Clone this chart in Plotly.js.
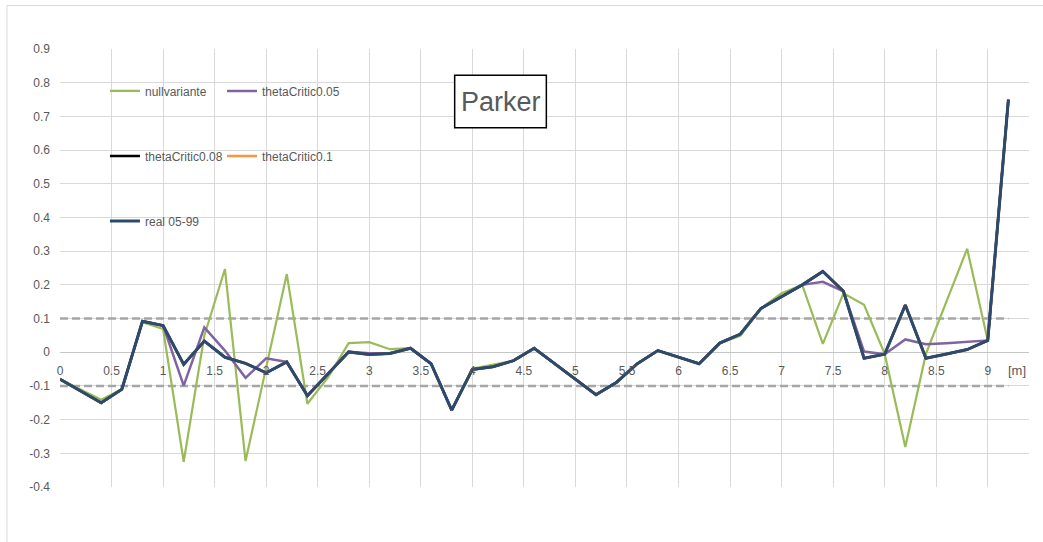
<!DOCTYPE html>
<html>
<head>
<meta charset="utf-8">
<script src="https://cdn.plot.ly/plotly-3.0.1.min.js"></script>
<style>html,body{margin:0;padding:0;background:#fff;}#chart{width:1043px;height:542px;}</style>
</head>
<body>
<div id="chart"></div>
<script>
// positions along the profile [m]
const positions = [0, 0.2, 0.4, 0.6, 0.8, 1.0, 1.2, 1.4, 1.6, 1.8, 2.0, 2.2, 2.4, 2.6, 2.8, 3.0, 3.2, 3.4, 3.6, 3.8, 4.0, 4.2, 4.4, 4.6, 4.8, 5.0, 5.2, 5.4, 5.6, 5.8, 6.0, 6.2, 6.4, 6.6, 6.8, 7.0, 7.2, 7.4, 7.6, 7.8, 8.0, 8.2, 8.4, 8.6, 8.8, 9.0, 9.2];

const nullvariante = [-0.08, -0.11, -0.141, -0.11, 0.089, 0.069, -0.325, 0.049, 0.247, -0.323, -0.045, 0.232, -0.153, -0.075, 0.027, 0.03, 0.009, 0.012, -0.034, -0.172, -0.049, -0.036, -0.025, 0.012, -0.034, -0.08, -0.126, -0.089, -0.034, 0.005, -0.015, -0.034, 0.027, 0.049, 0.13, 0.175, 0.2, 0.025, 0.175, 0.141, -0.005, -0.281, -0.005, 0.15, 0.307, 0.035, 0.75];

const thetaCritic005 = [-0.08, -0.115, -0.15, -0.11, 0.092, 0.079, -0.099, 0.074, 0.005, -0.076, -0.018, -0.029, -0.129, -0.064, 0.001, -0.003, -0.002, 0.012, -0.034, -0.172, -0.051, -0.043, -0.025, 0.012, -0.034, -0.08, -0.126, -0.089, -0.034, 0.005, -0.015, -0.034, 0.027, 0.054, 0.13, 0.166, 0.2, 0.209, 0.181, 0.002, -0.006, 0.038, 0.024, 0.027, 0.03, 0.035, 0.75];

const thetaCritic008 = [-0.08, -0.115, -0.15, -0.11, 0.092, 0.079, -0.036, 0.033, -0.015, -0.033, -0.061, -0.029, -0.129, -0.064, 0.001, -0.007, -0.004, 0.012, -0.034, -0.172, -0.051, -0.043, -0.025, 0.012, -0.034, -0.08, -0.126, -0.089, -0.034, 0.005, -0.015, -0.034, 0.027, 0.054, 0.13, 0.166, 0.2, 0.24, 0.181, -0.018, -0.006, 0.14, -0.018, -0.005, 0.008, 0.035, 0.75];

const thetaCritic01 = [-0.08, -0.115, -0.15, -0.11, 0.092, 0.079, -0.036, 0.033, -0.015, -0.033, -0.061, -0.029, -0.129, -0.064, 0.001, -0.007, -0.004, 0.012, -0.034, -0.172, -0.051, -0.043, -0.025, 0.012, -0.034, -0.08, -0.126, -0.089, -0.034, 0.005, -0.015, -0.034, 0.027, 0.054, 0.13, 0.166, 0.2, 0.24, 0.181, -0.018, -0.006, 0.14, -0.018, -0.005, 0.008, 0.035, 0.75];

const real0599 = [-0.08, -0.115, -0.15, -0.11, 0.092, 0.079, -0.036, 0.033, -0.015, -0.033, -0.061, -0.029, -0.129, -0.064, 0.001, -0.007, -0.004, 0.012, -0.034, -0.172, -0.051, -0.043, -0.025, 0.012, -0.034, -0.08, -0.126, -0.089, -0.034, 0.005, -0.015, -0.034, 0.027, 0.054, 0.13, 0.166, 0.2, 0.24, 0.181, -0.018, -0.006, 0.14, -0.018, -0.005, 0.008, 0.035, 0.75];

// threshold lines
const limitX = [0, 9.2];
const limitUpper = [0.1, 0.1];
const limitLower = [-0.1, -0.1];

const yTickVals = [-0.4, -0.3, -0.2, -0.1, 0, 0.1, 0.2, 0.3, 0.4, 0.5, 0.6, 0.7, 0.8, 0.9];
const yTickText = ["-0.4", "-0.3", "-0.2", "-0.1", "0", "0.1", "0.2", "0.3", "0.4", "0.5", "0.6", "0.7", "0.8", "0.9"];

const FONT = "Liberation Sans, Arial, sans-serif";
const TXT = "#595959";

const traces = [
  {x: limitX, y: limitUpper, mode: "lines", line: {color: "#a6a6a6", width: 2.5, dash: "8px,4px"}, showlegend: false, hoverinfo: "skip"},
  {x: limitX, y: limitLower, mode: "lines", line: {color: "#a6a6a6", width: 2.5, dash: "8px,4px"}, showlegend: false, hoverinfo: "skip"},
  {x: positions, y: nullvariante, name: "nullvariante", mode: "lines", line: {color: "#9bbb59", width: 2.2}, legend: "legend"},
  {x: positions, y: thetaCritic005, name: "thetaCritic0.05", mode: "lines", line: {color: "#8064a2", width: 2.5}, legend: "legend2"},
  {x: positions, y: thetaCritic008, name: "thetaCritic0.08", mode: "lines", line: {color: "#000000", width: 2.5}, legend: "legend3"},
  {x: positions, y: thetaCritic01, name: "thetaCritic0.1", mode: "lines", line: {color: "#f79646", width: 2.5}, legend: "legend4"},
  {x: positions, y: real0599, name: "real 05-99", mode: "lines", line: {color: "#2c4a6e", width: 3}, legend: "legend5"}
];

function leg(x, y) {
  return {x: x, y: y, xanchor: "left", yanchor: "middle", bgcolor: "rgba(0,0,0,0)", borderwidth: 0,
          font: {family: FONT, size: 12, color: TXT}, itemwidth: 30, orientation: "v", tracegroupgap: 0};
}

const layout = {
  width: 1043, height: 542,
  margin: {l: 60, r: 14, t: 49, b: 55, pad: 0},
  paper_bgcolor: "#ffffff", plot_bgcolor: "#ffffff",
  font: {family: FONT, size: 12, color: TXT},
  showlegend: true,
  legend: leg(0.0464, 0.9043),
  legend2: leg(0.1672, 0.9043),
  legend3: leg(0.0464, 0.7556),
  legend4: leg(0.1672, 0.7556),
  legend5: leg(0.0464, 0.6075),
  xaxis: {
    range: [0, 9.4], tick0: 0, dtick: 0.5, showgrid: true, gridcolor: "#d9d9d9", gridwidth: 1,
    zeroline: false, showline: false, ticks: "", anchor: "free", position: 0.3077,
    ticklabelstandoff: 10, tickfont: {family: FONT, size: 12, color: TXT}
  },
  yaxis: {
    range: [-0.4, 0.9], tickvals: yTickVals, ticktext: yTickText, showgrid: true, gridcolor: "#d9d9d9", gridwidth: 1,
    zeroline: true, zerolinecolor: "#c6c6c6", zerolinewidth: 1, showline: false, ticks: "",
    ticklabelstandoff: 9, tickfont: {family: FONT, size: 12, color: TXT}
  },
  shapes: [
    {type: "rect", xref: "paper", yref: "paper", x0: -0.0547, x1: 1.03, y0: -0.2, y1: 1.0991,
     line: {color: "#d9d9d9", width: 1}, fillcolor: "rgba(0,0,0,0)", layer: "below"},
    {type: "rect", xref: "paper", yref: "paper", x0: 0.4073, x1: 0.5019, y0: 0.820, y1: 0.940,
     line: {color: "#000000", width: 1.5}, fillcolor: "#ffffff", layer: "above"}
  ],
  annotations: [
    {text: "Parker", xref: "paper", yref: "paper", x: 0.4546, y: 0.880, xanchor: "center", yanchor: "middle",
     showarrow: false, font: {family: FONT, size: 27, color: TXT}},
    {text: "[m]", xref: "paper", yref: "paper", x: 0.9876, y: 0.2665, xanchor: "center", yanchor: "middle",
     showarrow: false, font: {family: FONT, size: 13, color: TXT}}
  ]
};

Plotly.newPlot("chart", traces, layout, {displayModeBar: false, staticPlot: true});
</script>
</body>
</html>
